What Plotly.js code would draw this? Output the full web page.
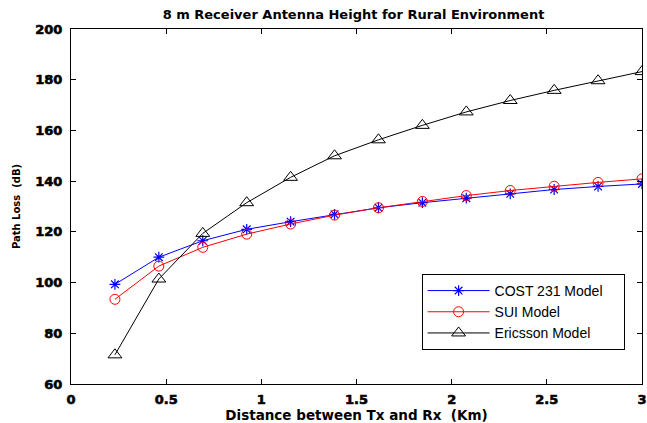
<!DOCTYPE html>
<html>
<head>
<meta charset="utf-8">
<script src="https://cdn.plot.ly/plotly-3.0.1.min.js"></script>
<style>
html,body{margin:0;padding:0;background:#fff;}
#chart{width:647px;height:423px;}
#chart .xtick text, #chart .ytick text,
#chart .xaxislayer-above text, #chart .yaxislayer-above text{
  font-weight:bold !important; stroke:#000 !important; stroke-width:0.6px !important;
}
</style>
</head>
<body>
<div id="chart"></div>
<script>
const distanceKm = [0.2308, 0.4615, 0.6923, 0.9231, 1.1538, 1.3846, 1.6154, 1.8462, 2.0769, 2.3077, 2.5385, 2.7692, 3.0];
const cost231 = [99.3, 110.0, 116.5, 121.0, 124.0, 126.9, 129.5, 131.5, 133.3, 135.0, 136.7, 137.9, 138.9];
const sui = [93.4, 106.5, 113.9, 119.1, 123.1, 126.6, 129.5, 132.0, 134.3, 136.3, 138.0, 139.5, 140.9];
const ericsson = [71.5, 101.4, 119.4, 131.5, 141.5, 150.0, 156.3, 162.0, 167.3, 171.8, 175.8, 179.6, 183.2];
const seriesNames = ["COST 231 Model", "SUI Model", "Ericsson Model"];
const xTicks = [0, 0.5, 1, 1.5, 2, 2.5, 3];
const yTicks = [60, 80, 100, 120, 140, 160, 180, 200];

const traces = [
  {x: distanceKm, y: cost231, name: seriesNames[0] + "\u00a0\u00a0\u00a0\u00a0", mode: "lines+markers",
   line: {color: "#0000ff", width: 1}, marker: {symbol: "asterisk-open", size: 9, color: "#0000ff", line: {color: "#0000ff", width: 1.2}}},
  {x: distanceKm, y: sui, name: seriesNames[1], mode: "lines+markers",
   line: {color: "#ff0000", width: 1}, marker: {symbol: "circle-open", size: 10, color: "#ff0000", line: {color: "#ff0000", width: 1}}},
  {x: distanceKm, y: ericsson, name: seriesNames[2], mode: "lines+markers",
   line: {color: "#000000", width: 1}, marker: {symbol: "triangle-up-open", size: 12, color: "#000000", line: {color: "#000000", width: 1}}}
];

const BOLD = "DejaVu Sans, sans-serif";
const FONT = "Liberation Sans, Arial, sans-serif";
const tickFont = {family: BOLD, size: 13, color: "#000", weight: "bold"};
const layout = {
  width: 647, height: 423,
  margin: {l: 71, r: 5, t: 29, b: 39},
  paper_bgcolor: "#fff", plot_bgcolor: "#fff",
  title: {text: "8 m Receiver Antenna Height for Rural Environment", x: 0.5464, xanchor: "center", y: 0.967, yanchor: "middle",
          font: {family: BOLD, size: 13, color: "#000", weight: "bold"}},
  xaxis: {range: [0, 3], tickvals: xTicks, ticktext: xTicks.map(String), ticks: "inside", ticklen: 5, tickcolor: "#000",
          showline: true, linecolor: "#000", linewidth: 1, mirror: "ticks", showgrid: false, zeroline: false,
          tickfont: tickFont, ticklabelstandoff: 3,
          title: {text: "Distance between Tx and Rx\u00a0 (Km)", standoff: 3, font: {family: BOLD, size: 13.5, color: "#000", weight: "bold"}}},
  yaxis: {range: [60, 200], tickvals: yTicks, ticktext: yTicks.map(String), ticks: "inside", ticklen: 5, tickcolor: "#000",
          showline: true, linecolor: "#000", linewidth: 1, mirror: "ticks", showgrid: false, zeroline: false,
          tickfont: tickFont, ticklabelstandoff: 5,
          title: {text: "Path Loss\u00a0 (dB)", standoff: 12, font: {family: BOLD, size: 10, color: "#000", weight: "bold"}}},
  legend: {x: 0.614, y: 0.31, xanchor: "left", yanchor: "top", bgcolor: "#fff", bordercolor: "#000", borderwidth: 1,
           font: {family: FONT, size: 14, color: "#000"}, itemwidth: 62, tracegroupgap: 0},
  showlegend: true
};
Plotly.newPlot("chart", traces, layout, {displayModeBar: false, staticPlot: true});
</script>
</body>
</html>
